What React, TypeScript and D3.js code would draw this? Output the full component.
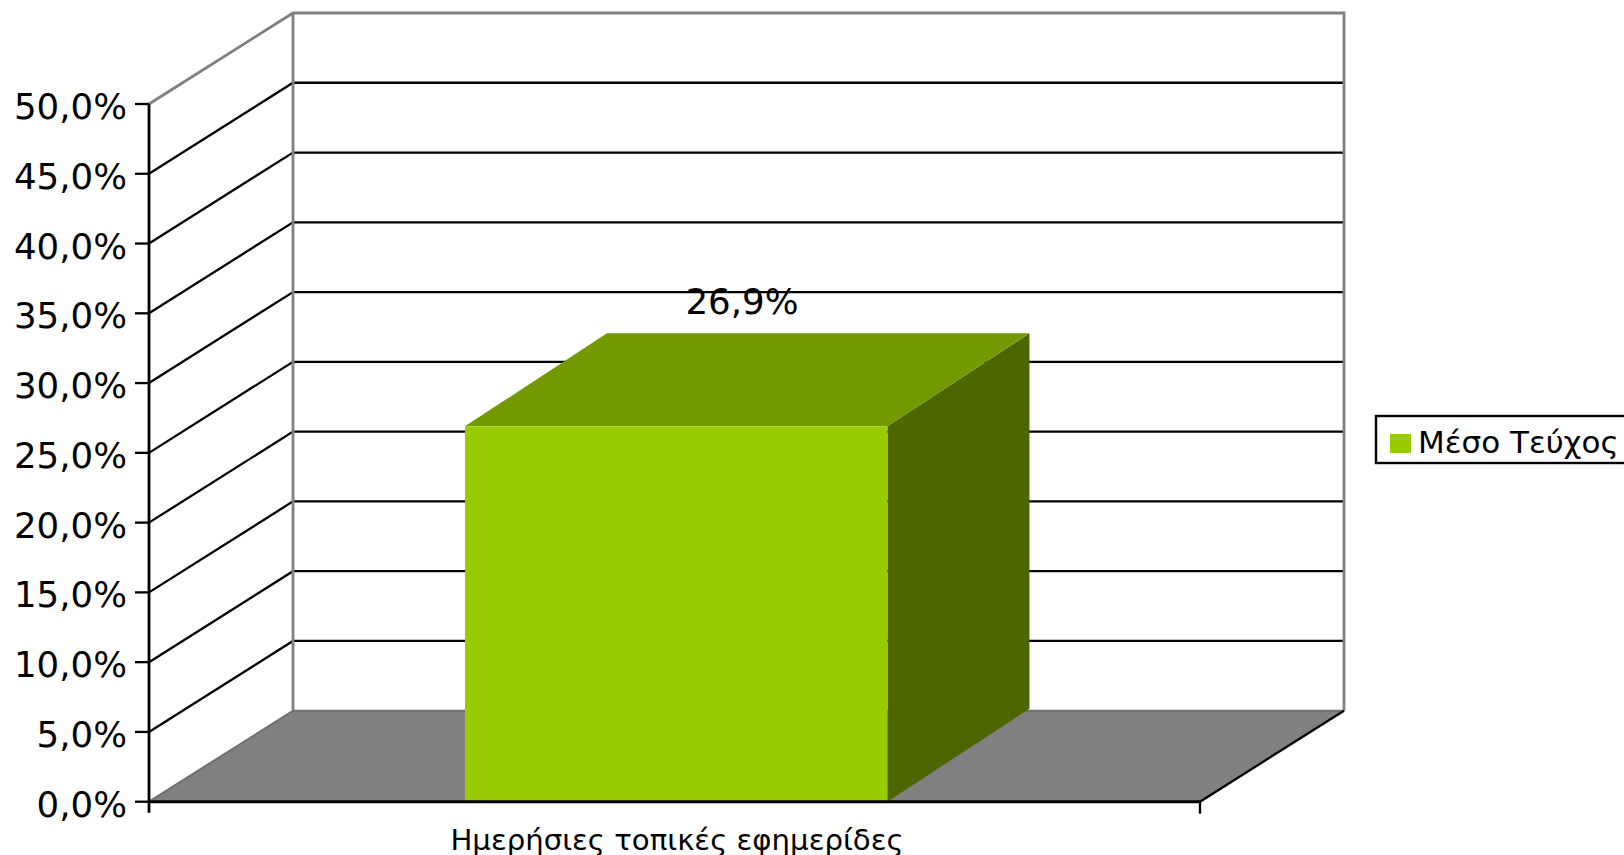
import React from "react";
import * as d3 from "d3";

const categories = ["Ημερήσιες τοπικές εφημερίδες"];
const seriesName = "Μέσο Τεύχος";
const seriesValues = [26.9];
const valueLabels = ["26,9%"];
const yTicks = [0, 5, 10, 15, 20, 25, 30, 35, 40, 45, 50];
const yTickLabels = ["0,0%", "5,0%", "10,0%", "15,0%", "20,0%", "25,0%", "30,0%", "35,0%", "40,0%", "45,0%", "50,0%"];

const W = 1624, H = 855;
const x0 = 149, x1 = 1200, yB = 801.7, yT = 104;
const dx = 144, dy = 91;
const barDx = 142, barDy = 93;
const font = "'DejaVu Sans', Verdana, sans-serif";

export default function App() {
  const y = d3.scaleLinear().domain([0, 50]).range([yB, yT]);
  const xBand = d3.scaleBand().domain(categories).range([x0, x1]).paddingInner(0.598).paddingOuter(0.299).align(0.5027);
  const line = d3.line();
  const bw = xBand.bandwidth();
  return (
    <svg width={W} height={H} style={{ position: "absolute", left: 0, top: 0, background: "#fff" }}>
      {/* floor */}
      <path d={line([[x0, yB], [x0 + dx, yB - dy], [x1 + dx, yB - dy], [x1, yB]])! + "Z"} fill="#808080" />
      {/* grid */}
      {yTicks.slice(1, -1).map((t) => (
        <path key={t} d={line([[x0, y(t)], [x0 + dx, y(t) - dy], [x1 + dx, y(t) - dy]])!} fill="none" stroke="#000" strokeWidth={2.3} />
      ))}
      {/* walls */}
      <path d={line([[x0, yB], [x0 + dx, yB - dy], [x1 + dx, yB - dy]])!} fill="none" stroke="#707070" strokeWidth={2} />
      <path d={line([[x0, y(50)], [x0 + dx, y(50) - dy], [x1 + dx, y(50) - dy], [x1 + dx, yB - dy]])!} fill="none" stroke="#808080" strokeWidth={2.8} />
      <path d={line([[x0 + dx, y(50) - dy], [x0 + dx, yB - dy]])!} fill="none" stroke="#808080" strokeWidth={2.8} />
      <path d={line([[x1, yB], [x1 + dx, yB - dy]])!} fill="none" stroke="#000" strokeWidth={2.3} />
      {/* bars */}
      {categories.map((c, i) => {
        const bx = xBand(c)!;
        const top = y(seriesValues[i]);
        return (
          <g key={c}>
            <path d={line([[bx + bw, yB], [bx + bw + barDx, yB - barDy], [bx + bw + barDx, top - barDy], [bx + bw, top]])! + "Z"} fill="#4c6600" />
            <path d={line([[bx, top], [bx + barDx, top - barDy], [bx + bw + barDx, top - barDy], [bx + bw, top]])! + "Z"} fill="#729900" />
            <rect x={bx} y={top} width={bw} height={yB - top} fill="#99cc00" />
            <text x={742} y={top - 112} fontFamily={font} fontSize={35.6} fill="#000" textAnchor="middle">{valueLabels[i]}</text>
            <text x={677} y={850} fontFamily={font} fontSize={29.2} fill="#000" textAnchor="middle">{c}</text>
          </g>
        );
      })}
      {/* axes */}
      <path d={`M${x0},${yT}V${yB + 11}`} fill="none" stroke="#000" strokeWidth={2.8} />
      <path d={`M${x0},${yB}H${x1}`} fill="none" stroke="#000" strokeWidth={3} />
      <path d={`M${x1},${yB}V${yB + 12}`} fill="none" stroke="#000" strokeWidth={2.3} />
      {yTicks.map((t, i) => (
        <g key={t}>
          <path d={`M${x0 - 14},${y(t)}H${x0}`} stroke="#000" strokeWidth={2.3} />
          <text x={127} y={y(t) + 15} fontFamily={font} fontSize={35.6} textAnchor="end" fill="#000">{yTickLabels[i]}</text>
        </g>
      ))}
      {/* legend */}
      <rect x={1376} y={416} width={250} height={47} fill="#fff" stroke="#000" strokeWidth={2.4} />
      <rect x={1390} y={434} width={21} height={19} fill="#99cc00" />
      <text x={1418} y={453} fontFamily={font} fontSize={31} fill="#000">{seriesName}</text>
    </svg>
  );
}
